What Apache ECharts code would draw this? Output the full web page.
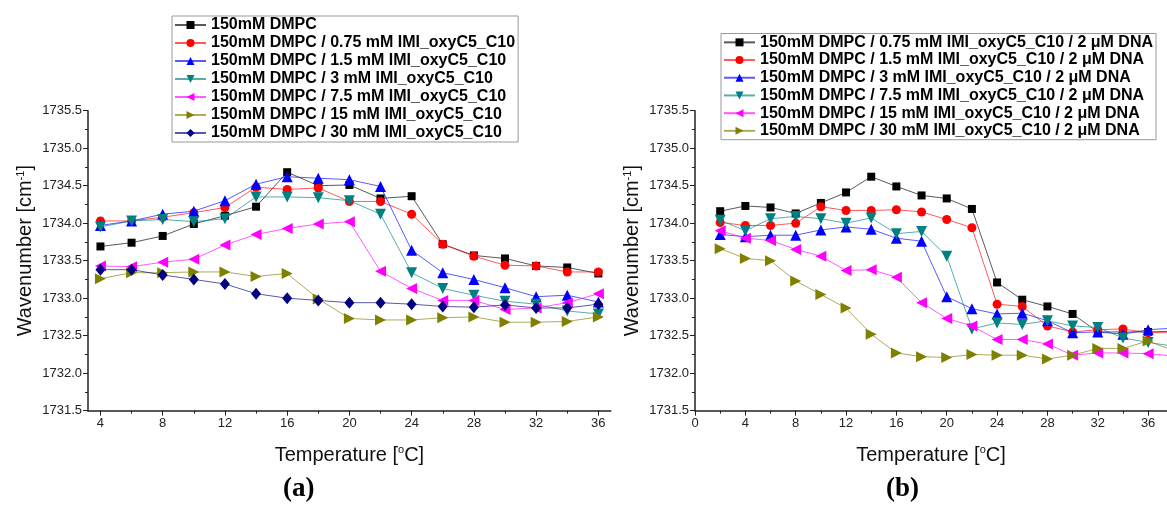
<!DOCTYPE html>
<html><head><meta charset="utf-8">
<script src="https://cdn.jsdelivr.net/npm/echarts@6/dist/echarts.min.js"></script>
<style>html,body{margin:0;padding:0;background:#fff}#c{width:1167px;height:508px}</style>
</head><body><div id="c"></div>
<script>
// ---------- Data: panel (a) ----------
const tempA = [4,6,8,10,12,14,16,18,20,22,24,26,28,30,32,34,36];
const namesA = [
  '150mM DMPC',
  '150mM DMPC / 0.75 mM IMI_oxyC5_C10',
  '150mM DMPC / 1.5 mM IMI_oxyC5_C10',
  '150mM DMPC / 3 mM IMI_oxyC5_C10',
  '150mM DMPC / 7.5 mM IMI_oxyC5_C10',
  '150mM DMPC / 15 mM IMI_oxyC5_C10',
  '150mM DMPC / 30 mM IMI_oxyC5_C10'
];
const a_dmpc  = [1733.69,1733.74,1733.83,1733.99,1734.10,1734.22,1734.68,1734.50,1734.51,1734.33,1734.36,1733.72,1733.57,1733.53,1733.43,1733.41,1733.33];
const a_075   = [1734.03,1734.03,1734.08,1734.14,1734.21,1734.48,1734.45,1734.47,1734.29,1734.29,1734.12,1733.72,1733.56,1733.44,1733.43,1733.35,1733.35];
const a_15    = [1733.97,1734.03,1734.12,1734.16,1734.30,1734.52,1734.62,1734.60,1734.58,1734.49,1733.64,1733.34,1733.25,1733.14,1733.02,1733.04,1732.95];
const a_3     = [1733.95,1734.03,1734.05,1734.02,1734.06,1734.35,1734.35,1734.34,1734.30,1734.12,1733.34,1733.13,1733.04,1732.96,1732.92,1732.83,1732.79];
const a_75    = [1733.43,1733.42,1733.48,1733.52,1733.71,1733.85,1733.93,1733.99,1734.02,1733.36,1733.13,1732.97,1732.97,1732.85,1732.87,1732.94,1733.06];
const a_15mM  = [1733.26,1733.34,1733.34,1733.35,1733.35,1733.29,1733.33,1732.99,1732.73,1732.71,1732.71,1732.74,1732.75,1732.68,1732.68,1732.69,1732.75];
const a_30    = [1733.38,1733.38,1733.31,1733.25,1733.19,1733.06,1733.00,1732.97,1732.94,1732.94,1732.92,1732.89,1732.88,1732.91,1732.87,1732.87,1732.92];
const valuesA = [a_dmpc,a_075,a_15,a_3,a_75,a_15mM,a_30];

// ---------- Data: panel (b) ----------
const tempB = [2,4,6,8,10,12,14,16,18,20,22,24,26,28,30,32,34,36,38];
const namesB = [
  '150mM DMPC / 0.75 mM IMI_oxyC5_C10 / 2 \u03bcM DNA',
  '150mM DMPC / 1.5 mM IMI_oxyC5_C10 / 2 \u03bcM DNA',
  '150mM DMPC / 3 mM IMI_oxyC5_C10 / 2 \u03bcM DNA',
  '150mM DMPC / 7.5 mM IMI_oxyC5_C10 / 2 \u03bcM DNA',
  '150mM DMPC / 15 mM IMI_oxyC5_C10 / 2 \u03bcM DNA',
  '150mM DMPC / 30 mM IMI_oxyC5_C10 / 2 \u03bcM DNA'
];
const b_075 = [1734.16,1734.23,1734.21,1734.13,1734.27,1734.41,1734.62,1734.49,1734.37,1734.33,1734.19,1733.21,1732.98,1732.89,1732.79,1732.55,1732.55,1732.55,1732.56];
const b_15  = [1734.01,1733.97,1733.97,1734.00,1734.22,1734.17,1734.17,1734.18,1734.15,1734.05,1733.94,1732.92,1732.89,1732.63,1732.55,1732.58,1732.59,1732.54,1732.54];
const b_3   = [1733.85,1733.82,1733.84,1733.84,1733.91,1733.95,1733.92,1733.80,1733.76,1733.02,1732.86,1732.79,1732.80,1732.70,1732.54,1732.55,1732.52,1732.58,1732.60];
const b_75  = [1734.04,1733.90,1734.06,1734.09,1734.06,1734.00,1734.07,1733.86,1733.89,1733.56,1732.59,1732.67,1732.65,1732.70,1732.63,1732.61,1732.47,1732.41,1732.36];
const b_15mM= [1733.90,1733.80,1733.77,1733.65,1733.56,1733.37,1733.38,1733.28,1732.94,1732.73,1732.63,1732.45,1732.45,1732.39,1732.24,1732.27,1732.27,1732.26,1732.23];
const b_30  = [1733.66,1733.53,1733.50,1733.23,1733.05,1732.87,1732.52,1732.27,1732.22,1732.21,1732.25,1732.24,1732.24,1732.19,1732.24,1732.33,1732.33,1732.43,1732.30];
const valuesB = [b_075,b_15,b_3,b_75,b_15mM,b_30];

// tick labels
const ticksA = [4,8,12,16,20,24,28,32,36];
const minorA = [6,10,14,18,22,26,30,34];
const ticksB = [0,4,8,12,16,20,24,28,32,36];
const minorB = [2,6,10,14,18,22,26,30,34];

// ---------- Styles ----------
const colors = ['#000000','#ff0000','#0000ff','#008080','#ff00ff','#808000','#000080'];
const symbols = [
  {symbol:'rect', size:8, rot:0},
  {symbol:'circle', size:9, rot:0},
  {symbol:'triangle', size:11, rot:0},
  {symbol:'triangle', size:11, rot:180},
  {symbol:'triangle', size:11, rot:90},
  {symbol:'triangle', size:11, rot:-90},
  {symbol:'diamond', size:[10,12], rot:0}
];
const FONT = 'Liberation Sans, Arial, sans-serif';

function mkSeries(names, values, xs, xi, yi) {
  return names.map((n, i) => ({
    name: n, type: 'line', xAxisIndex: xi, yAxisIndex: yi,
    data: xs.map((x, k) => [x, values[i][k]]),
    symbol: symbols[i].symbol, symbolSize: symbols[i].size, symbolRotate: symbols[i].rot,
    showAllSymbol: true,
    itemStyle: {color: colors[i]},
    lineStyle: {color: colors[i], width: 1, opacity: 0.65},
    emphasis: {disabled: true},
    z: 2 + i
  }));
}

function yAxis(gi) {
  return {
    type: 'value', gridIndex: gi, min: 1731.5, max: 1735.5, interval: 0.5,
    axisLine: {show: true, lineStyle: {color: '#222', width: 1.5}},
    axisTick: {show: true, length: 5, lineStyle: {color: '#222'}},
    minorTick: {show: true, splitNumber: 2, length: 3, lineStyle: {color: '#222'}},
    splitLine: {show: false},
    axisLabel: {color: '#222', fontSize: 13, fontFamily: FONT, margin: 6, formatter: v => v.toFixed(1)},
    name: 'Wavenumber [cm{sup|-1}]', nameLocation: 'middle', nameGap: 52, nameRotate: 90,
    nameTextStyle: {color: '#111', fontSize: 20, fontFamily: FONT, padding: [0, 0, 0, 20],
      rich: {sup: {fontSize: 11, fontFamily: FONT, color: '#111', verticalAlign: 'top', padding: [0,0,10,0]}}}
  };
}
function xAxisMain(gi, min, max, ticks) {
  return {
    type: 'value', gridIndex: gi, min: min, max: max,
    axisLine: {show: true, onZero: false, lineStyle: {color: '#222', width: 1.5}},
    axisTick: {show: true, length: 5, customValues: ticks, lineStyle: {color: '#222'}},
    axisLabel: {color: '#222', fontSize: 13, fontFamily: FONT, margin: 6, customValues: ticks},
    splitLine: {show: false},
    name: 'Temperature [{sup|o}C]', nameLocation: 'middle', nameGap: 34,
    nameTextStyle: {color: '#111', fontSize: 20, fontFamily: FONT,
      rich: {sup: {fontSize: 11, fontFamily: FONT, color: '#111', verticalAlign: 'top', padding: [0,0,10,0]}}}
  };
}
function xAxisMinor(gi, min, max, ticks) {
  return {
    type: 'value', gridIndex: gi, min: min, max: max, position: 'bottom',
    axisLine: {show: false, onZero: false},
    axisTick: {show: true, length: 3, customValues: ticks, lineStyle: {color: '#222'}},
    axisLabel: {show: false},
    splitLine: {show: false}
  };
}
function legend(names, left, top, lh) {
  return {
    data: names, orient: 'vertical', left: left, top: top,
    itemWidth: 31, itemHeight: 10, itemGap: 0,
    padding: [0, 3, 0, 2],
    borderColor: '#999', borderWidth: 1, backgroundColor: '#fff',
    textStyle: {fontSize: 16, fontWeight: 'bold', fontFamily: FONT, color: '#000', lineHeight: lh},
    selectedMode: false
  };
}

const chart = echarts.init(document.getElementById('c'), null, {renderer: 'canvas'});
chart.setOption({
  animation: false,
  backgroundColor: '#fff',
  grid: [
    {left: 88, top: 110.7, width: 522.8, height: 300},
    {left: 695, top: 110.7, width: 472.9, height: 300}
  ],
  xAxis: [
    xAxisMain(0, 3.2, 36.8, ticksA),
    xAxisMinor(0, 3.2, 36.8, minorA),
    xAxisMain(1, 0, 37.5, ticksB),
    xAxisMinor(1, 0, 37.5, minorB)
  ],
  yAxis: [yAxis(0), yAxis(1)],
  legend: [
    legend(namesA, 172, 16, 18),
    legend(namesB, 721, 33.5, 17.7)
  ],
  series: [].concat(mkSeries(namesA, valuesA, tempA, 0, 0), mkSeries(namesB, valuesB, tempB, 2, 1)),
  graphic: [
    {type: 'text', left: 283, top: 476, style: {text: '(a)', font: 'bold 27px Liberation Serif, Times New Roman, serif', fill: '#000'}},
    {type: 'text', left: 886, top: 476, style: {text: '(b)', font: 'bold 27px Liberation Serif, Times New Roman, serif', fill: '#000'}}
  ]
});
</script>
</body></html>
